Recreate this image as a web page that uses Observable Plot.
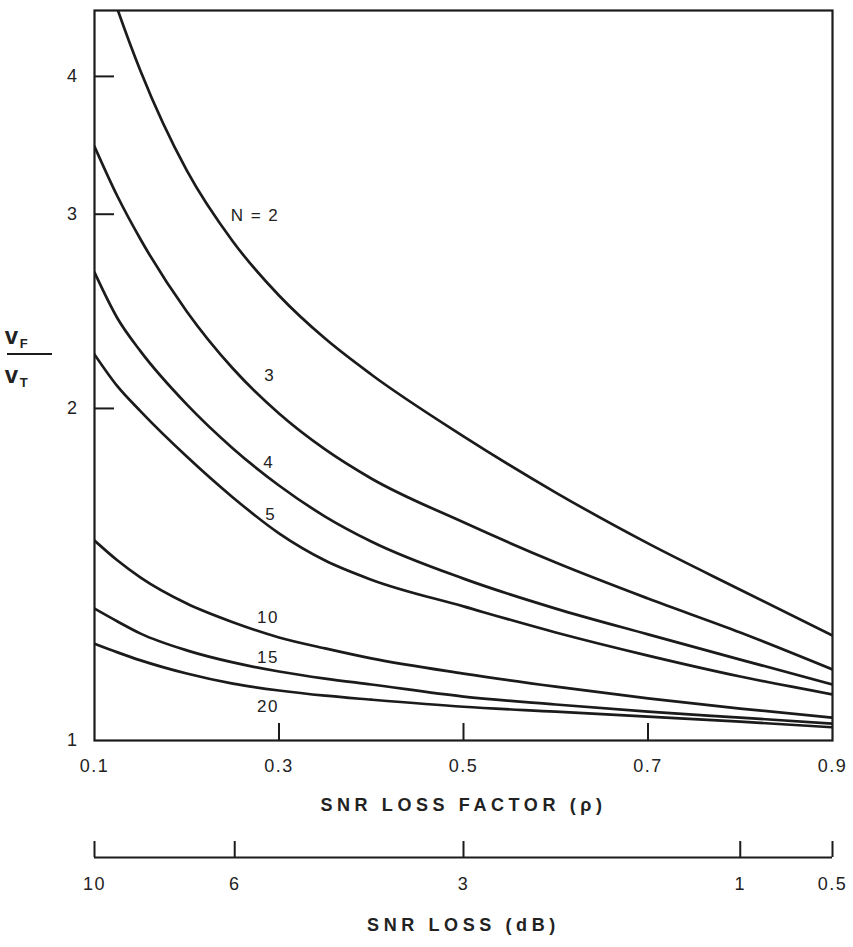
<!DOCTYPE html>
<html><head><meta charset="utf-8">
<script src="https://cdn.jsdelivr.net/npm/d3@7"></script>
<script src="https://cdn.jsdelivr.net/npm/@observablehq/plot@0.6"></script>
<style>
html,body{margin:0;padding:0;background:#fff;}
#chart{position:relative;width:853px;height:947px;}
#chart svg text{letter-spacing:1.5px;}
</style></head><body><div id="chart"></div>
<script>
// ---- data ----
const rho   = [0.1, 0.125, 0.15, 0.2, 0.25, 0.3, 0.35, 0.4, 0.5, 0.6, 0.7, 0.8, 0.9];
const rhoN2 = [0.115, 0.125, 0.15, 0.2, 0.25, 0.3, 0.35, 0.4, 0.5, 0.6, 0.7, 0.8, 0.9];
const vN2  = [4.866, 4.600, 4.043, 3.287, 2.834, 2.532, 2.314, 2.147, 1.887, 1.678, 1.509, 1.370, 1.245];
const vN3  = [3.456, 3.113, 2.846, 2.449, 2.174, 1.979, 1.836, 1.728, 1.577, 1.450, 1.345, 1.253, 1.160];
const vN4  = [2.657, 2.413, 2.253, 2.017, 1.840, 1.703, 1.596, 1.515, 1.402, 1.317, 1.248, 1.184, 1.124];
const vN5  = [2.239, 2.094, 1.988, 1.809, 1.661, 1.541, 1.456, 1.399, 1.323, 1.253, 1.194, 1.143, 1.101];
const vN10 = [1.518, 1.456, 1.405, 1.331, 1.280, 1.240, 1.212, 1.187, 1.150, 1.119, 1.092, 1.069, 1.049];
const vN15 = [1.317, 1.282, 1.250, 1.207, 1.177, 1.155, 1.138, 1.124, 1.096, 1.078, 1.062, 1.049, 1.036];
const vN20 = [1.224, 1.202, 1.182, 1.150, 1.126, 1.110, 1.098, 1.089, 1.073, 1.062, 1.051, 1.040, 1.028];

const labelText = ["N = 2", "3", "4", "5", "10", "15", "20"];
const labelRho  = [0.274, 0.290, 0.289, 0.291, 0.288, 0.288, 0.288];
const labelV    = [2.99, 2.142, 1.787, 1.603, 1.293, 1.189, 1.073];

const xTicks = [0.1, 0.3, 0.5, 0.7, 0.9];
const xInnerTicks = [0.3, 0.5, 0.7];
const yTicks = [1, 2, 3, 4];
const yInnerTicks = [2, 3, 4];
const dbLabels = ["10", "6", "3", "1", "0.5"];
const dbRho = [0.1, 0.252, 0.5, 0.8, 0.9];

const xTitle = "SNR LOSS FACTOR (\u03C1)";
const dbTitle = "SNR LOSS (dB)";

// ---- build table ----
const series = [
  {N: 2, r: rhoN2, v: vN2}, {N: 3, r: rho, v: vN3}, {N: 4, r: rho, v: vN4},
  {N: 5, r: rho, v: vN5}, {N: 10, r: rho, v: vN10}, {N: 15, r: rho, v: vN15},
  {N: 20, r: rho, v: vN20}
];
const data = series.flatMap(s => s.v.map((v, i) => ({N: s.N, rho: s.r[i], v})));
const labels = labelText.map((t, i) => ({t, rho: labelRho[i], v: labelV[i]}));
const db = dbLabels.map((t, i) => ({t, rho: dbRho[i]}));

const ink = "#1b1b1b";
const chart = Plot.plot({
  width: 853, height: 947,
  marginLeft: 94, marginRight: 21, marginTop: 10, marginBottom: 207,
  style: {fontFamily: "'Liberation Sans', Arial, sans-serif", color: "#222", background: "#fff"},
  x: {domain: [0.1, 0.9], axis: null},
  y: {type: "log", domain: [1, 4.59], axis: null},
  marks: [
    Plot.line(data, {x: "rho", y: "v", z: "N", curve: "monotone-x", stroke: ink, strokeWidth: 2.7, clip: true}),
    Plot.frame({stroke: ink, strokeWidth: 2.2}),
    Plot.ruleY(yInnerTicks, {y: d => d, insetRight: 718, stroke: ink, strokeWidth: 2}),
    Plot.ruleX(xInnerTicks, {x: d => d, insetTop: 713, stroke: ink, strokeWidth: 2}),
    Plot.text(yTicks, {y: d => d, text: d => String(d), frameAnchor: "left", textAnchor: "end", dx: -16, fontSize: 18}),
    Plot.text(xTicks, {x: d => d, text: d => String(d), frameAnchor: "bottom", dy: 31, fontSize: 18}),
    Plot.text([xTitle], {text: d => d, frameAnchor: "bottom", dy: 70, fontSize: 18, fontWeight: "bold"}),
    Plot.ruleY([1], {y: d => d, dy: 117, stroke: ink, strokeWidth: 2}),
    Plot.ruleX(db, {x: "rho", insetTop: 714, dy: 117, stroke: ink, strokeWidth: 2}),
    Plot.text(db, {x: "rho", text: "t", frameAnchor: "bottom", dy: 149, fontSize: 18}),
    Plot.text([dbTitle], {text: d => d, frameAnchor: "bottom", dy: 190, fontSize: 18, fontWeight: "bold"}),
    Plot.text(labels, {x: "rho", y: "v", text: "t", fontSize: 17})
  ]
});

const svg = d3.select(chart);
// wide letter spacing on the two axis titles
svg.selectAll("text").filter(function() {
  const s = this.textContent; return s === xTitle || s === dbTitle;
}).style("letter-spacing", "4.6px");

// y-axis label: v_F / v_T fraction
const g = svg.append("g").attr("aria-label", "y-axis label").attr("fill", "#222")
  .attr("font-family", "'Liberation Sans', Arial, sans-serif").attr("font-weight", "bold");
g.append("text").attr("x", 17).attr("y", 344).attr("font-size", 24).text("v")
  .append("tspan").attr("font-size", 13).attr("dy", 4).text("F");
g.append("line").attr("x1", 7).attr("x2", 52).attr("y1", 354).attr("y2", 354)
  .attr("stroke", ink).attr("stroke-width", 2);
g.append("text").attr("x", 17).attr("y", 383).attr("font-size", 24).text("v")
  .append("tspan").attr("font-size", 13).attr("dy", 4).text("T");

document.getElementById("chart").appendChild(chart);
</script></body></html>
